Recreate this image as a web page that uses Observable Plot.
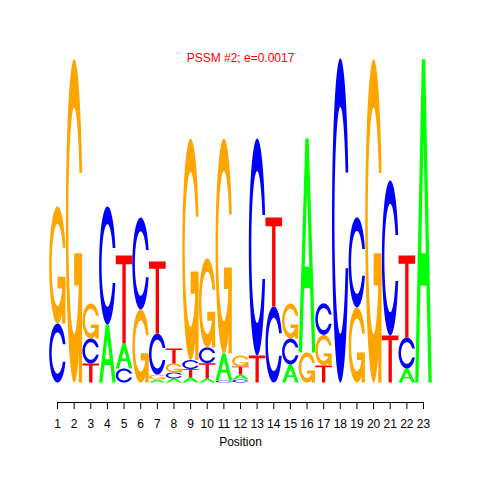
<!DOCTYPE html>
<html>
<head>
<meta charset="utf-8">
<script src="https://cdn.jsdelivr.net/npm/d3@7"></script>
<script src="https://cdn.jsdelivr.net/npm/@observablehq/plot@0.6"></script>
<style>
html, body { margin: 0; padding: 0; background: #ffffff; }
#chart { width: 480px; height: 480px; }
</style>
</head>
<body>
<div id="chart"></div>
<script>
// ---- data (information content in bits, per letter, per position) ----
const title = "PSSM #2; e=0.0017";
const xLabel = "Position";
const positions = [1, 2, 3, 4, 5, 6, 7, 8, 9, 10, 11, 12, 13, 14, 15, 16, 17, 18, 19, 20, 21, 22, 23];
const bitsA = [0, 0, 0, 0.357, 0.154, 0, 0.018, 0.025, 0.031, 0.025, 0.166, 0.031, 0, 0, 0.111, 1.317, 0, 0, 0, 0, 0, 0.086, 1.99];
const bitsC = [0.363, 0, 0.154, 0.726, 0.086, 0.566, 0.252, 0.037, 0.055, 0.097, 0.012, 0.018, 1.335, 0.468, 0.160, 0, 0.194, 1.995, 0.554, 0, 0.954, 0.191, 0];
const bitsG = [0.720, 1.99, 0.215, 0, 0, 0.449, 0.031, 0.055, 1.362, 0.548, 1.323, 0.068, 0, 0, 0.215, 0.185, 0.188, 0, 0.462, 1.99, 0, 0, 0];
const bitsT = [0, 0, 0.117, 0, 0.542, 0, 0.443, 0.092, 0.052, 0.094, 0, 0.049, 0.166, 0.548, 0, 0, 0.105, 0, 0, 0, 0.289, 0.505, 0];
const letters = ["A", "C", "G", "T"];
const letterColors = { A: "#00FF00", C: "#0000FF", G: "#FFA500", T: "#FF0000" };
const maxBits = 2;

// ---- glyph outlines in unit square (seqLogo-style letter polygons) ----
function ringParts() {
  const n = 100;
  const lin = (a, b) => d3.range(n).map(i => a + (b - a) * i / (n - 1));
  const a1 = lin(0.3 + Math.PI / 2, Math.PI);
  const a2 = lin(Math.PI, 1.5 * Math.PI);
  const xl = [...a1, ...a2].map(a => 0.5 + 0.5 * Math.sin(a));
  const yl = [...a1, ...a2].map(a => 0.5 + 0.5 * Math.cos(a));
  const hMax = d3.max(a1, a => 0.5 + 0.5 * Math.cos(a));
  const rMax = d3.max(a1, a => 0.5 + 0.5 * Math.sin(a));
  const xo = [...xl, ...xl.slice().reverse()];
  const yo = [...yl, ...yl.slice().reverse().map(v => 1 - v)];
  let xi1 = a1.map(a => 0.5 + 0.35 * Math.sin(a));
  let yi1 = a1.map(a => 0.5 + 0.35 * Math.cos(a));
  const keep = yi1.map(v => v <= hMax);
  xi1 = xi1.filter((_, i) => keep[i]);
  yi1 = yi1.filter((_, i) => keep[i]);
  yi1[0] = hMax;
  const xi2 = a2.map(a => 0.5 + 0.35 * Math.sin(a));
  const yi2 = a2.map(a => 0.5 + 0.35 * Math.cos(a));
  const xi = [...xi1, ...xi2], yi = [...yi1, ...yi2];
  const x1 = [...xi, ...xi.slice().reverse()];
  const y1 = [...yi, ...yi.slice().reverse().map(v => 1 - v)];
  const xs = [...xo, ...x1.slice().reverse()];
  const ys = [...yo, ...y1.slice().reverse()];
  return { ring: xs.map((v, i) => [v, ys[i]]), rMax };
}
const RING = ringParts();
const GLYPHS = {
  A: [
    { pts: [[0,0],[0.4,1],[0.6,1],[1,0],[0.8,0],[0.68,0.3],[0.32,0.3],[0.2,0],[0,0]], white: false },
    { pts: [[0.36,0.4],[0.5,0.75],[0.64,0.4],[0.36,0.4]], white: true }
  ],
  T: [
    { pts: [[0,1],[1,1],[1,0.9],[0.6,0.9],[0.6,0],[0.4,0],[0.4,0.9],[0,0.9]], white: false }
  ],
  C: [ { pts: RING.ring, white: false } ],
  G: [
    { pts: RING.ring, white: false },
    { pts: [[RING.rMax,0.4],[0.5,0.4],[0.5,0.3],[RING.rMax-0.2,0.3],[RING.rMax-0.2,0],[RING.rMax,0],[RING.rMax,0.4]], white: false }
  ]
};

// ---- stack letters (smallest at the bottom) and build outline points ----
const bitsBy = { A: bitsA, C: bitsC, G: bitsG, T: bitsT };
const points = [];
let partId = 0;
positions.forEach((pos, i) => {
  const col = letters.map(L => ({ L, h: bitsBy[L][i] })).filter(d => d.h > 0).sort((a, b) => a.h - b.h);
  let y0 = 0;
  for (const { L, h } of col) {
    for (const part of GLYPHS[L]) {
      partId++;
      const color = part.white ? "#FFFFFF" : letterColors[L];
      for (const [u, v] of part.pts) {
        points.push({ x: pos - 0.5 + u, y: y0 + h * v, id: partId, color });
      }
    }
    y0 += h;
  }
});

// axis sits 20px below the letter baseline (R-style detached axis)
const pxPerBit = 162.5;
const axisAt = -20 / pxPerBit;

const chart = Plot.plot({
  width: 480,
  height: 480,
  marginTop: 57,
  marginBottom: 78,
  marginLeft: 48.7,
  marginRight: 48.7,
  x: { domain: [positions[0] - 0.5, positions[positions.length - 1] + 0.5], axis: null, label: null },
  y: { domain: [axisAt, maxBits], axis: null, label: null },
  color: { type: "identity" },
  style: { fontFamily: "'Liberation Sans', Arial, Helvetica, sans-serif", fontSize: "12px", background: "#ffffff", color: "#000000" },
  marks: [
    Plot.line(points, { x: "x", y: "y", z: "id", fill: "color", stroke: "none", curve: "linear" }),
    Plot.ruleY([{ y: axisAt, x1: positions[0], x2: positions[positions.length - 1] }], { y: "y", x1: "x1", x2: "x2", stroke: "#000000", strokeWidth: 1 }),
    Plot.axisX(positions, { tickSize: 7, tickPadding: 10, fontSize: 12, label: null, tickFormat: d => String(d), stroke: "#000000" }),
    Plot.text([xLabel], { frameAnchor: "bottom", dy: 43.7, fontSize: 12, fill: "#000000" }),
    Plot.text([title], { frameAnchor: "top", dy: -3.8, fontSize: 12, fill: "#FF0000" })
  ]
});
document.getElementById("chart").appendChild(chart);
</script>
</body>
</html>
